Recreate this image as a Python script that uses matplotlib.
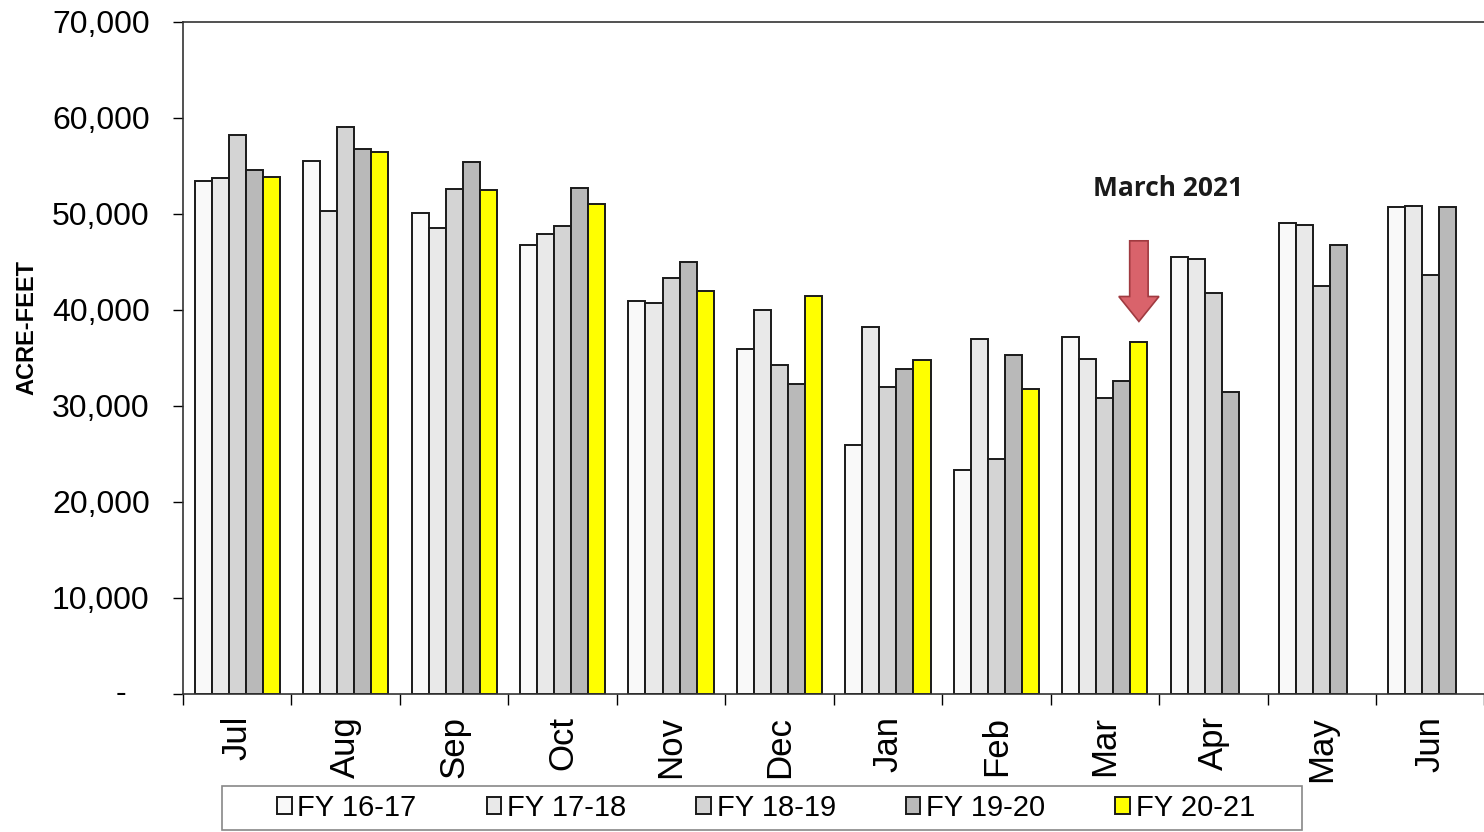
import numpy as np
import matplotlib.pyplot as plt
from matplotlib.patches import FancyArrow, Rectangle

# monthly deliveries, acre-feet
months = ["Jul", "Aug", "Sep", "Oct", "Nov", "Dec", "Jan", "Feb", "Mar", "Apr", "May", "Jun"]
fy_labels = ["FY 16-17", "FY 17-18", "FY 18-19", "FY 19-20", "FY 20-21"]

fy1617 = [53400, 55500, 50100, 46800, 40900, 35900, 25900, 23300, 37200, 45500, 49100, 50700]
fy1718 = [53700, 50300, 48500, 47900, 40700, 40000, 38200, 37000, 34900, 45300, 48800, 50800]
fy1819 = [58200, 59100, 52600, 48700, 43300, 34300, 32000, 24500, 30800, 41800, 42500, 43600]
fy1920 = [54600, 56800, 55400, 52700, 45000, 32300, 33800, 35300, 32600, 31400, 46800, 50700]
fy2021 = [53900, 56500, 52500, 51000, 42000, 41500, 34800, 31800, 36700]

series = [fy1617, fy1718, fy1819, fy1920, fy2021]
colors = ["#f9f9f9", "#e9e9e9", "#d4d4d4", "#b9b9b9", "#ffff00"]

plt.rcParams['font.family'] = ['Liberation Sans', 'DejaVu Sans']

fig = plt.figure(figsize=(14.84, 8.32), dpi=100)
ax = fig.add_axes([0.1233, 0.166, 0.877, 0.8076])

x = np.arange(len(months))
w = 0.157
for i, vals in enumerate(series):
    pos = x[:len(vals)] + (i - 2) * w
    ax.bar(pos, vals, width=w, color=colors[i], edgecolor="#1a1a1a",
           linewidth=1.4, label=fy_labels[i], zorder=2)

ax.set_xlim(-0.5, len(months) - 0.5)
ax.set_ylim(0, 70000)

yt = np.arange(0, 70001, 10000)
ax.set_yticks(yt)
ax.set_yticklabels([""] + ["{:,}".format(v) for v in yt[1:]], fontsize=23)
ax.tick_params(axis="y", length=7, width=1, pad=17)
# zero shown as a dash
ax.text(-0.048, 0, "-", transform=ax.get_yaxis_transform(), fontsize=23,
        ha="center", va="center")

# month names centred, tick marks at group boundaries
ax.set_xticks(x)
ax.set_xticklabels(months, rotation=90, fontsize=25)
ax.tick_params(axis="x", length=0, pad=16)
ax.set_xticks(np.arange(-0.5, len(months)), minor=True)
ax.tick_params(axis="x", which="minor", length=8, width=1)

ax.set_ylabel("ACRE-FEET", fontsize=17, fontweight="bold")
ax.yaxis.set_label_coords(-0.111, 0.545)

for s in ["left", "bottom", "top"]:
    ax.spines[s].set_color("#333333")
    ax.spines[s].set_linewidth(1.2)
ax.spines["right"].set_visible(False)

# March 2021 marker
ax.text(8.58, 52600, "March 2021", fontsize=19, fontweight="bold",
        family=["Open Sans", "DejaVu Sans"], ha="center", va="center", color="#1a1a1a")
arrow = FancyArrow(8 + 2 * w, 47200, 0, -8400, width=0.17, head_width=0.37,
                   head_length=2600, length_includes_head=True,
                   facecolor="#d9636b", edgecolor="#a03a40", linewidth=1.2, zorder=3)
ax.add_patch(arrow)

# legend box drawn separately, entries without frame
fig.patches.append(Rectangle((222 / 1484, 2 / 832), 1080 / 1484, 44 / 832,
                             transform=fig.transFigure, facecolor="white",
                             edgecolor="#888888", linewidth=1.2))
leg = fig.legend(*ax.get_legend_handles_labels(), loc="center",
                 bbox_to_anchor=(766 / 1484, 24 / 832), ncol=5, fontsize=21,
                 frameon=False, handlelength=0.5, handleheight=0.5,
                 handletextpad=0.2, columnspacing=2.4, borderpad=0.1)

fig.savefig("out.png", dpi=100)
